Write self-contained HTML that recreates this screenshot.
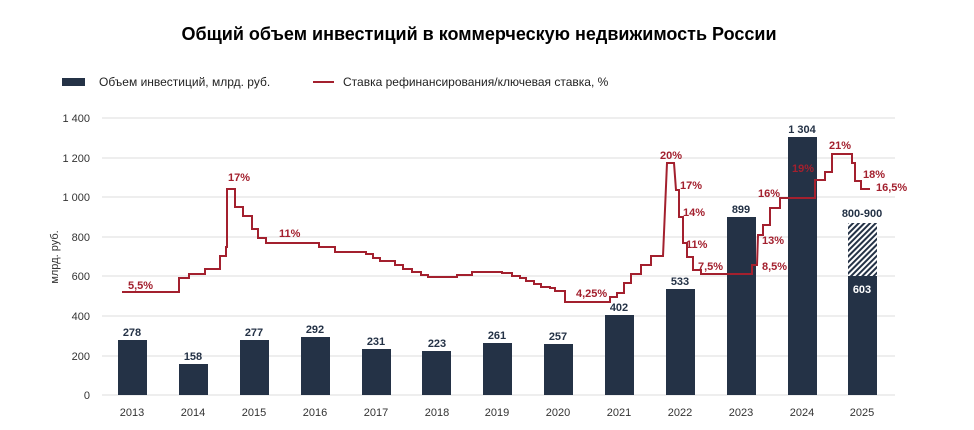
<!DOCTYPE html>
<html><head><meta charset="utf-8"><style>
body{margin:0;background:#fff;}
svg{display:block;font-family:"Liberation Sans","DejaVu Sans",sans-serif;}
</style></head><body>
<svg width="974" height="430" viewBox="0 0 974 430" xmlns="http://www.w3.org/2000/svg">
<defs>
<pattern id="h" width="4" height="4" patternUnits="userSpaceOnUse" patternTransform="rotate(45)">
<rect width="4" height="4" fill="#fff"/><rect width="2" height="4" fill="#243246"/>
</pattern>
</defs>
<text x="479" y="40" text-anchor="middle" font-size="18" font-weight="bold" fill="#000">Общий объем инвестиций в коммерческую недвижимость России</text>
<rect x="62" y="78" width="23" height="8" fill="#243246"/>
<text x="99" y="86" font-size="12" fill="#222">Объем инвестиций, млрд. руб.</text>
<line x1="313" y1="82" x2="334" y2="82" stroke="#a3202e" stroke-width="2"/>
<text x="343" y="86" font-size="12" fill="#222">Ставка рефинансирования/ключевая ставка, %</text>
<g stroke="#dcdcdc" stroke-width="1">
<line x1="102" y1="118" x2="895" y2="118"/><line x1="102" y1="158" x2="895" y2="158"/>
<line x1="102" y1="197" x2="895" y2="197"/><line x1="102" y1="237" x2="895" y2="237"/>
<line x1="102" y1="276" x2="895" y2="276"/><line x1="102" y1="316" x2="895" y2="316"/>
<line x1="102" y1="356" x2="895" y2="356"/><line x1="102" y1="395" x2="895" y2="395"/>
</g>
<g font-size="11" fill="#333" text-anchor="end">
<text x="90" y="122">1 400</text><text x="90" y="162">1 200</text><text x="90" y="201">1 000</text>
<text x="90" y="241">800</text><text x="90" y="280">600</text><text x="90" y="320">400</text>
<text x="90" y="360">200</text><text x="90" y="399">0</text>
</g>
<text transform="translate(58,257) rotate(-90)" text-anchor="middle" font-size="11" fill="#333">млрд. руб.</text>
<g fill="#243246">
<rect x="118" y="340" width="29" height="55"/>
<rect x="179" y="364" width="29" height="31"/>
<rect x="240" y="340" width="29" height="55"/>
<rect x="301" y="337" width="29" height="58"/>
<rect x="362" y="349" width="29" height="46"/>
<rect x="422" y="351" width="29" height="44"/>
<rect x="483" y="343" width="29" height="52"/>
<rect x="544" y="344" width="29" height="51"/>
<rect x="605" y="315" width="29" height="80"/>
<rect x="666" y="289" width="29" height="106"/>
<rect x="727" y="217" width="29" height="178"/>
<rect x="788" y="137" width="29" height="258"/>
<rect x="848" y="276" width="29" height="119"/>
</g>
<rect x="848" y="223" width="29" height="53" fill="url(#h)"/>
<g font-size="11" font-weight="bold" fill="#243246" text-anchor="middle">
<text x="132" y="336">278</text><text x="193" y="360">158</text><text x="254" y="336">277</text>
<text x="315" y="333">292</text><text x="376" y="345">231</text><text x="437" y="347">223</text>
<text x="497" y="339">261</text><text x="558" y="340">257</text><text x="619" y="311">402</text>
<text x="680" y="285">533</text><text x="741" y="213">899</text><text x="802" y="133">1 304</text>
<text x="862" y="217">800-900</text>
<text x="862" y="293" fill="#fff">603</text>
</g>
<g font-size="11" fill="#333" text-anchor="middle">
<text x="132" y="416">2013</text><text x="193" y="416">2014</text><text x="254" y="416">2015</text>
<text x="315" y="416">2016</text><text x="376" y="416">2017</text><text x="437" y="416">2018</text>
<text x="497" y="416">2019</text><text x="558" y="416">2020</text><text x="619" y="416">2021</text>
<text x="680" y="416">2022</text><text x="741" y="416">2023</text><text x="802" y="416">2024</text>
<text x="862" y="416">2025</text>
</g>
<polyline fill="none" stroke="#a3202e" stroke-width="2" points="122,292 179,292 179,278 189,278 189,274 205,274 205,269 220,269 220,256 226,256 226,247 227,247 227,189 235,189 235,207 243,207 243,216 252,216 252,229 258,229 258,238 266,238 266,243 319,243 319,247 335,247 335,252 366,252 366,254 373,254 373,258 380,258 380,261 395,261 395,265 403,265 403,269 412,269 412,272 421,272 421,275 428,275 428,277 457,277 457,275 472,275 472,272 502,272 502,273 512,273 512,276 520,276 520,278 526,278 526,281 534,281 534,284 541,284 541,287 550,287 550,288 555,288 555,291 565,291 565,302 610,302 610,297 617,297 617,293 624,293 624,283 631,283 631,274 641,274 641,265 651,265 651,256 663,256 667,163 674,163 676,190 679,190 679,217 683,217 683,243 687,243 687,257 693,257 693,270 701,270 701,274 752,274 752,265 757,265 758,235 763,235 763,225 770,225 770,208 780,208 780,198 815,198 815,180 825,180 825,172 832,172 832,154 852,154 852,163 855,163 855,181 861,181 861,189 870,189"/>
<g font-size="11" font-weight="bold" fill="#a3202e">
<text x="128" y="289">5,5%</text><text x="228" y="181">17%</text><text x="279" y="237">11%</text>
<text x="576" y="297">4,25%</text><text x="660" y="159">20%</text><text x="680" y="189">17%</text>
<text x="683" y="216">14%</text><text x="686" y="248">11%</text><text x="698" y="270">7,5%</text>
<text x="762" y="270">8,5%</text><text x="762" y="244">13%</text><text x="758" y="197">16%</text>
<text x="792" y="172">19%</text><text x="829" y="149">21%</text><text x="863" y="178">18%</text>
<text x="876" y="191">16,5%</text>
</g>
</svg>
</body></html>
